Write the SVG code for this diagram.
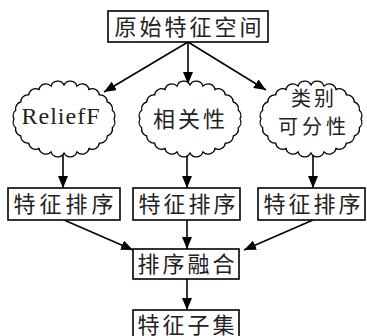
<svg xmlns="http://www.w3.org/2000/svg" width="367" height="336" viewBox="0 0 367 336">
<style>
.box{fill:#fff;stroke:#000;stroke-width:1.6}
.cloud{fill:#fff;stroke:#000;stroke-width:1.3}
.cn{font-family:"Noto Sans CJK SC",sans-serif;font-size:22px;fill:#222;text-anchor:middle}
.sm{font-size:20px}
.en{font-family:"Liberation Serif",serif;font-size:24px;fill:#222;text-anchor:middle;letter-spacing:1px}
.edge{stroke:#000;stroke-width:1.6;fill:none;marker-end:url(#ah)}
</style>
<defs>
<marker id="ah" viewBox="0 0 12 10" refX="12" refY="5" markerWidth="12" markerHeight="10" markerUnits="userSpaceOnUse" orient="auto">
<path d="M0,0 L12,5 L0,10 Z" fill="#000"/>
</marker>
<path id="cl" d="M50,0 A7 7 0 0 1 48.3,8.8 A7 7 0 0 1 43.3,17 A7 7 0 0 1 35.36,24.04 A7 7 0 0 1 25,29.44 A7 7 0 0 1 12.94,32.84 A7 7 0 0 1 0,34 A7 7 0 0 1 -12.94,32.84 A7 7 0 0 1 -25,29.44 A7 7 0 0 1 -35.36,24.04 A7 7 0 0 1 -43.3,17 A7 7 0 0 1 -48.3,8.8 A7 7 0 0 1 -50,0 A7 7 0 0 1 -48.3,-8.8 A7 7 0 0 1 -43.3,-17 A7 7 0 0 1 -35.36,-24.04 A7 7 0 0 1 -25,-29.44 A7 7 0 0 1 -12.94,-32.84 A7 7 0 0 1 0,-34 A7 7 0 0 1 12.94,-32.84 A7 7 0 0 1 25,-29.44 A7 7 0 0 1 35.36,-24.04 A7 7 0 0 1 43.3,-17 A7 7 0 0 1 48.3,-8.8 A7 7 0 0 1 50,0 Z"/>
</defs>
<rect width="367" height="336" fill="#fff"/>
<g id="connectors">
<line class="edge" x1="188" y1="42" x2="104" y2="92"/>
<line class="edge" x1="188" y1="42" x2="188" y2="84"/>
<line class="edge" x1="188" y1="42" x2="266" y2="90"/>
<line class="edge" x1="63" y1="154" x2="63" y2="188"/>
<line class="edge" x1="187" y1="154" x2="187" y2="188"/>
<line class="edge" x1="313" y1="154" x2="313" y2="188"/>
<line class="edge" x1="64" y1="220" x2="133" y2="250"/>
<line class="edge" x1="187" y1="220" x2="187" y2="249"/>
<line class="edge" x1="313" y1="220" x2="244" y2="250"/>
<line class="edge" x1="187" y1="279" x2="187" y2="310"/>
</g>
<g id="n_space">
<rect class="box" x="108" y="11" width="160" height="31"/>
<text class="cn" x="189.5" y="34.5" letter-spacing="3">原始特征空间</text>
</g>
<g id="n_relief">
<use href="#cl" class="cloud" transform="translate(64,119)"/>
<text class="en" x="61" y="124">ReliefF</text>
</g>
<g id="n_corr">
<use href="#cl" class="cloud" transform="translate(190,119)"/>
<text class="cn" x="190.5" y="127" letter-spacing="3">相关性</text>
</g>
<g id="n_sep">
<use href="#cl" class="cloud" transform="translate(311,119)"/>
<text class="cn sm" x="314" y="106" letter-spacing="3">类别</text>
<text class="cn sm" x="314" y="134" letter-spacing="4">可分性</text>
</g>
<g id="n_rank1">
<rect class="box" x="8" y="188" width="112" height="32"/>
<text class="cn" x="65.5" y="212" letter-spacing="4">特征排序</text>
</g>
<g id="n_rank2">
<rect class="box" x="133" y="188" width="107" height="32"/>
<text class="cn" x="188.5" y="212" letter-spacing="3">特征排序</text>
</g>
<g id="n_rank3">
<rect class="box" x="258" y="188" width="107" height="32"/>
<text class="cn" x="313.5" y="212" letter-spacing="3">特征排序</text>
</g>
<g id="n_fuse">
<rect class="box" x="133" y="249" width="106" height="30"/>
<text class="cn" x="187.5" y="272" letter-spacing="3">排序融合</text>
</g>
<g id="n_subset">
<rect class="box" x="133" y="310" width="106" height="30"/>
<text class="cn" x="187.5" y="333" letter-spacing="3">特征子集</text>
</g>
</svg>
